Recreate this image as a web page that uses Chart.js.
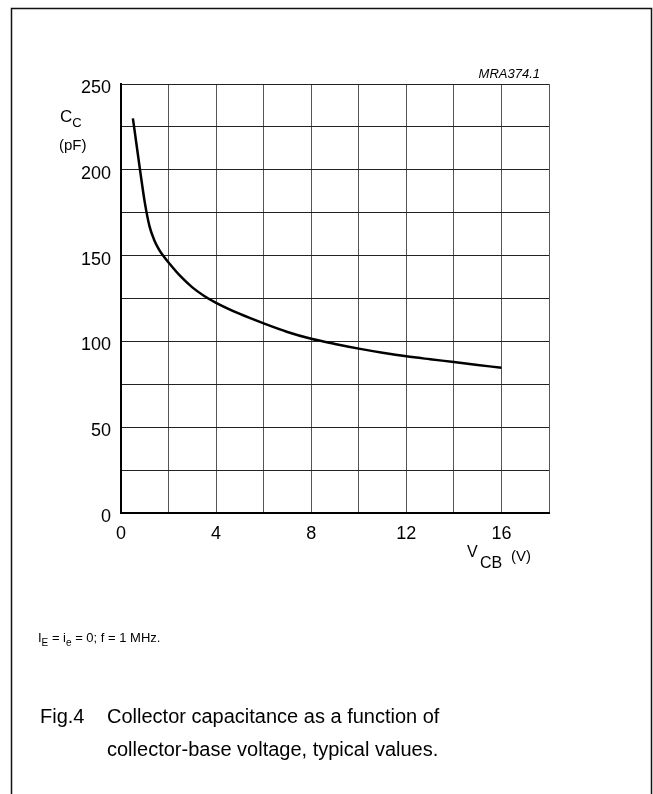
<!DOCTYPE html>
<html>
<head>
<meta charset="utf-8">
<script src="https://cdn.jsdelivr.net/npm/chart.js@4.4.1/dist/chart.umd.min.js"></script>
<style>
  html, body { margin: 0; padding: 0; background: #fff; }
  #wrap { width: 653px; height: 794px; position: relative; }
</style>
</head>
<body>
<div id="wrap"><canvas id="c" width="653" height="794"></canvas></div>
<script>
// Data
const vcb = [0.5, 0.6, 0.8, 1.0, 1.2, 1.4, 1.6, 1.8, 2.0, 2.5, 3, 3.5, 4, 5, 6, 7, 8, 9, 10, 11, 12, 13, 14, 15, 16];
const cc  = [230, 220, 200, 181, 167, 159, 153.5, 149.5, 146, 138, 131.5, 126.5, 122.5, 116, 110.5, 105.5, 101.5, 98.5, 95.8, 93.4, 91.3, 89.6, 88, 86.3, 84.6];
const xTickLabels = [0, 4, 8, 12, 16];
const yTickLabels = [0, 50, 100, 150, 200, 250];

const FONT = '"Liberation Sans", Arial, Helvetica, sans-serif';

function drawRuns(ctx, x, y, runs, size, subSize, subDrop) {
  ctx.textBaseline = 'alphabetic';
  ctx.textAlign = 'left';
  let cx = x;
  for (const [txt, sub] of runs) {
    ctx.font = (sub ? subSize : size) + 'px ' + FONT;
    ctx.fillText(txt, cx, sub ? y + subDrop : y);
    cx += ctx.measureText(txt).width;
  }
}

const annotations = {
  id: 'annotations',
  afterDraw(chart) {
    const ctx = chart.ctx;
    ctx.save();
    ctx.fillStyle = '#000';
    // outer frame
    ctx.strokeStyle = '#111';
    ctx.lineWidth = 1.5;
    ctx.beginPath();
    ctx.moveTo(11.5, 800);
    ctx.lineTo(11.5, 8.5);
    ctx.lineTo(651.5, 8.5);
    ctx.lineTo(651.5, 800);
    ctx.stroke();

    // code label
    ctx.font = 'italic 13px ' + FONT;
    ctx.textAlign = 'right';
    ctx.textBaseline = 'alphabetic';
    ctx.fillText('MRA374.1', 540, 78);

    // y-axis title
    drawRuns(ctx, 60, 122, [['C', false], ['C', true]], 17, 13, 5);
    ctx.font = '15px ' + FONT;
    ctx.textAlign = 'left';
    ctx.fillText('(pF)', 59, 150);

    // x-axis title
    drawRuns(ctx, 467, 557, [['V', false]], 16, 13, 0);
    ctx.font = '16px ' + FONT;
    ctx.fillText('CB', 480, 568);
    ctx.font = '15px ' + FONT;
    ctx.fillText('(V)', 511, 561);

    // conditions
    drawRuns(ctx, 38, 642, [['I', false], ['E', true], [' = i', false], ['e', true], [' = 0; f = 1 MHz.', false]], 13, 10, 4);

    // caption
    ctx.font = '20px ' + FONT;
    ctx.textAlign = 'left';
    ctx.fillText('Fig.4', 40, 723);
    ctx.fillText('Collector capacitance as a function of', 107, 723);
    ctx.fillText('collector-base voltage, typical values.', 107, 756);
    ctx.restore();
  }
};

const points = vcb.map((x, i) => ({ x: x, y: cc[i] }));

new Chart(document.getElementById('c'), {
  type: 'line',
  data: {
    datasets: [{
      data: points,
      borderColor: '#000',
      borderWidth: 2.5,
      pointRadius: 0,
      fill: false,
      cubicInterpolationMode: 'monotone'
    }]
  },
  options: {
    responsive: false,
    animation: false,
    events: [],
    layout: { padding: { left: 0, top: 84, right: 104, bottom: 241 } },
    plugins: { legend: { display: false }, tooltip: { enabled: false }, title: { display: false } },
    scales: {
      x: {
        type: 'linear',
        min: 0, max: 18,
        afterFit(s) { s.height = 40; },
        border: { display: true, color: '#000', width: 2 },
        grid: { color: '#555', lineWidth: 1, drawTicks: false },
        ticks: {
          stepSize: 2,
          padding: 10,
          color: '#000',
          font: { family: FONT, size: 18 },
          maxRotation: 0,
          autoSkip: false,
          callback: (v) => xTickLabels.includes(v) ? String(v) : ''
        }
      },
      y: {
        type: 'linear',
        min: 0, max: 250,
        afterFit(s) { s.width = 121; },
        border: { display: true, color: '#000', width: 2 },
        grid: { color: '#222', lineWidth: 1, drawTicks: false },
        ticks: {
          stepSize: 25,
          padding: 10,
          labelOffset: 4,
          color: '#000',
          font: { family: FONT, size: 18 },
          autoSkip: false,
          callback: (v) => yTickLabels.includes(v) ? String(v) : ''
        }
      }
    }
  },
  plugins: [annotations]
});
</script>
</body>
</html>
